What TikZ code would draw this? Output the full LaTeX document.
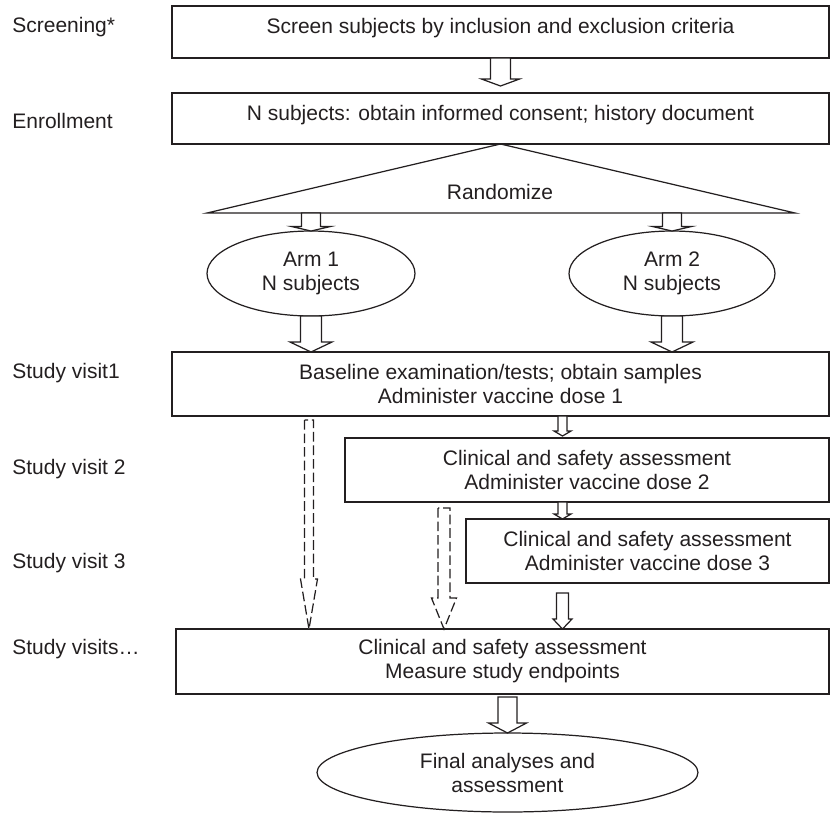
\documentclass[tikz,border=0pt]{standalone}
\usepackage{fontspec}
\setmainfont{Liberation Sans}
\usetikzlibrary{shapes.geometric,calc}
\definecolor{ink}{HTML}{231F20}

% hollow block arrow: [style]{from}{to}{shaft half width}{head half width}{head length}
\newcommand{\blockarrow}[6][]{%
  \draw[#1] let \p1=(#2), \p2=(#3) in
    (\x1-#4,\y1) -- (\x1-#4,\y2+#6) -- (\x1-#5,\y2+#6) -- (\x1,\y2)
    -- (\x1+#5,\y2+#6) -- (\x1+#4,\y2+#6) -- (\x1+#4,\y1) -- cycle;}

\begin{document}
\begin{tikzpicture}[x=0.02cm, y=-0.02cm,
    font=\fontsize{11.95}{13.66}\selectfont,
    every node/.style={text=ink},
    line/.style={draw=ink, line width=0.7pt},
    box/.style={line, inner sep=0pt, outer sep=0pt, align=center},
    highbox/.style={text height=0.35cm, text depth=0.29cm},
    oval/.style={line, ellipse, inner sep=0pt, outer sep=0pt, align=center},
    fat/.style={line, fill=white},
    fatdash/.style={fat, dash pattern=on 5.5pt off 2.2pt}]

  \useasboundingbox (0,0) rectangle (835,812);

	%step labels
    \foreach \y/\txt/\name in {32/Screening*/lscreen, 128/Enrollment/lenroll, 378/Study visit1/lv1,
                               474/Study visit 2/lv2, 568/Study visit 3/lv3, 654/Study visits…/lvn}{
           \node[anchor=base west, inner sep=0pt] (\name) at (12,\y) {\txt};
    }

	%boxes
 \node[box, highbox, minimum width=13.14cm, minimum height=1.04cm] (screen) at (500.5,32)
      {Screen subjects by inclusion and exclusion criteria};
 \node[box, highbox, minimum width=13.14cm, minimum height=1.02cm] (enroll) at (500.5,118.5)
      {N subjects: obtain informed consent; history document};
 \node[box, minimum width=13.14cm, minimum height=1.28cm] (visit1) at (500.5,384)
      {Baseline examination/tests; obtain samples\\Administer vaccine dose 1};
 \node[box, minimum width=9.68cm, minimum height=1.28cm] (visit2) at (587,470)
      {Clinical and safety assessment\\Administer vaccine dose 2};
 \node[box, minimum width=7.26cm, minimum height=1.28cm] (visit3) at (647.5,551)
      {Clinical and safety assessment\\Administer vaccine dose 3};
 \node[box, minimum width=13.06cm, minimum height=1.3cm] (visitn) at (502.5,661.5)
      {Clinical and safety assessment\\Measure study endpoints};

	%randomize
 \coordinate (tl) at (207,213);
 \coordinate (tr) at (795,213);
 \draw[line] (enroll.south) -- (tr) -- (tl) -- cycle;
 \node[anchor=base] (rand) at (500,199) {Randomize};

	%arms and final
 \node[oval, minimum width=4.16cm, minimum height=1.7cm] (arm1) at (311,273.5) {Arm 1\\N subjects};
 \node[oval, minimum width=4.12cm, minimum height=1.7cm] (arm2) at (672,273.5) {Arm 2\\N subjects};
 \node[oval, minimum width=7.62cm, minimum height=1.58cm] (final) at (507.5,772.5) {Final analyses and\\assessment};

	%arrows
 \coordinate (colS) at (562.5,0);
 \coordinate (colA) at (309,0);
 \coordinate (colB) at (444,0);

 \blockarrow[fat]{screen.south}{$(enroll.north)+(0,-7)$}{0.2cm}{0.38cm}{0.14cm}
 \blockarrow[fat]{arm1.north |- tl}{arm1.north}{0.19cm}{0.39cm}{0.09cm}
 \blockarrow[fat]{arm2.north |- tl}{arm2.north}{0.19cm}{0.39cm}{0.09cm}
 \blockarrow[fat]{arm1.south}{arm1.south |- visit1.north}{0.21cm}{0.42cm}{0.2cm}
 \blockarrow[fat]{arm2.south}{arm2.south |- visit1.north}{0.21cm}{0.42cm}{0.2cm}
 \blockarrow[fat]{visit1.south -| colS}{$(visit2.north -| colS)+(0,-2)$}{0.09cm}{0.17cm}{0.1cm}
 \blockarrow[fat]{visit2.south -| colS}{visit3.north -| colS}{0.09cm}{0.17cm}{0.1cm}
 \blockarrow[fat]{$(visit3.south -| colS)+(0,10)$}{visitn.north -| colS}{0.12cm}{0.19cm}{0.2cm}
 \blockarrow[fat]{$(final.north |- visitn.south)+(0,3)$}{final.north}{0.19cm}{0.38cm}{0.2cm}

 \blockarrow[fatdash]{$(visit1.south -| colA)+(0,4)$}{visitn.north -| colA}{0.09cm}{0.17cm}{1cm}
 \blockarrow[fatdash]{$(visit2.south -| colB)+(0,6)$}{visitn.north -| colB}{0.12cm}{0.25cm}{0.62cm}

\end{tikzpicture}
\end{document}
